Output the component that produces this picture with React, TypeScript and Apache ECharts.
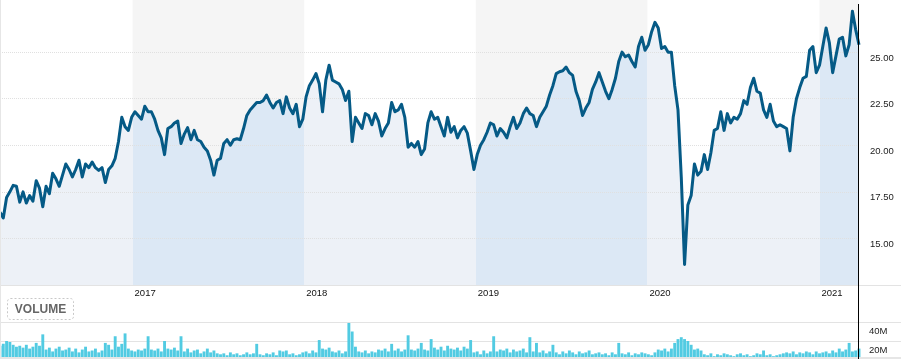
import React, { useEffect, useRef } from 'react';
import * as echarts from 'echarts';

// Weekly closes, starting Friday 2016-03-25
const START_DATE = Date.UTC(2016, 2, 25);
const WEEK_MS = 7 * 24 * 3600 * 1000;

const priceValues = [
  16.4, 16.1, 17.2, 17.5, 17.85, 17.8, 16.95, 17.5, 16.9, 17.3,
  17.0, 18.1, 17.7, 16.7, 17.8, 17.4, 18.5, 18.2, 17.8, 18.4,
  19.0, 18.7, 18.3, 18.7, 19.2, 18.3, 19.0, 18.8, 19.1, 18.8,
  18.65, 18.8, 18.0, 18.7, 18.9, 19.3, 20.2, 21.5, 21.0, 20.8,
  21.5, 21.8, 21.6, 21.4, 22.1, 21.8, 21.8, 21.4, 20.8, 20.4,
  19.5, 20.9, 21.0, 21.2, 21.3, 20.1, 20.6, 20.95, 20.3, 20.8,
  20.3, 20.2, 19.9, 19.7, 19.2, 18.4, 19.2, 19.3, 20.1, 20.3,
  20.0, 20.3, 20.35, 20.3, 20.9, 21.6, 21.9, 22.1, 22.3, 22.3,
  22.4, 22.7, 22.3, 22.0, 22.3, 22.4, 21.7, 22.6, 22.0, 21.7,
  22.2, 21.0, 21.4, 22.6, 23.2, 23.5, 23.85, 23.3, 21.8, 23.5,
  24.3, 23.5, 23.4, 23.3, 23.0, 22.4, 22.9, 20.2, 21.5, 21.2,
  20.9, 21.7, 21.6, 21.1, 21.7, 21.3, 20.5, 20.9, 21.2, 22.3,
  21.8, 21.9, 22.2, 21.5, 19.9, 20.1, 19.9, 20.2, 19.5, 19.8,
  21.2, 21.8, 21.4, 21.5, 21.0, 20.5, 21.5, 20.7, 21.0, 20.4,
  20.8, 21.0, 20.65, 19.7, 18.7, 19.5, 20.0, 20.3, 20.7, 21.2,
  21.1, 20.5, 20.9, 20.7, 20.4, 21.0, 21.5, 20.9, 21.2, 21.7,
  22.0, 21.7, 21.6, 21.0, 21.5, 21.8, 22.1, 22.7, 23.2, 23.85,
  23.95, 24.0, 24.2, 23.9, 23.75, 22.9, 22.4, 21.6, 22.0, 22.3,
  23.0, 23.4, 23.9, 23.4, 22.9, 22.5, 23.0, 23.6, 24.5, 25.0,
  24.75, 24.85, 24.5, 24.2, 25.3, 25.8, 25.1, 25.4, 26.1, 26.6,
  26.3, 25.2, 25.3, 25.0, 25.0, 23.2, 21.9, 18.3, 13.6, 16.8,
  17.3, 19.0, 18.4, 18.6, 19.5, 18.7, 19.6, 20.8, 20.9, 21.8,
  20.8, 21.7, 21.2, 21.5, 21.4, 21.7, 22.4, 22.2, 23.1, 23.6,
  22.9, 22.8, 21.9, 21.5, 22.2, 21.3, 21.0, 21.1, 21.0, 20.9,
  19.7, 21.5, 22.5, 23.1, 23.6, 23.7, 25.1, 25.3, 23.9, 24.3,
  25.3, 26.3, 25.5, 23.9, 24.8, 25.7, 25.8, 24.8, 25.4, 27.2,
  26.2, 25.4,
];

// Volume in millions, one bar per week
const volumeMillions = [
  15, 17, 20, 19, 16, 14, 15, 13, 16, 12,
  14, 18, 15, 27, 11, 13, 9, 12, 14, 10,
  11, 13, 9, 12, 8, 11, 14, 9, 10, 12,
  8, 10, 18, 16, 11, 25, 14, 17, 28, 12,
  10, 9, 11, 10, 12, 25, 11, 10, 12, 9,
  20, 12, 11, 13, 10, 25, 9, 12, 8, 10,
  11, 7, 9, 12, 8, 10, 7, 6, 7, 5,
  8, 6, 7, 5, 6, 8, 6, 7, 17, 6,
  5, 7, 6, 8, 5, 10, 9, 10, 6, 7,
  5, 6, 8, 9, 7, 10, 8, 21, 12, 11,
  13, 9, 8, 10, 7, 9, 39, 30, 14, 9,
  8, 10, 7, 9, 8, 11, 10, 12, 9, 17,
  10, 12, 9, 11, 26, 11, 10, 12, 18, 11,
  10, 22, 13, 11, 14, 10, 15, 12, 11, 13,
  10, 14, 12, 21, 8, 9, 6, 10, 7, 9,
  25, 9, 11, 10, 12, 8, 11, 9, 10, 12,
  8, 24, 9, 18, 8, 10, 7, 9, 16, 8,
  6, 9, 7, 10, 8, 6, 9, 7, 8, 10,
  6, 7, 8, 6, 7, 5, 8, 6, 18, 7,
  6, 8, 5, 7, 6, 8, 7, 6, 5, 8,
  11, 10, 12, 9, 12, 18, 22, 24, 22, 20,
  16, 11, 12, 10, 6, 5, 7, 4, 6, 5,
  7, 6, 5, 4, 6, 7, 5, 6, 4, 5,
  7, 6, 10, 5, 6, 4, 5, 6, 7, 8,
  7, 9, 6, 8, 7, 9, 8, 6, 9, 7,
  8, 9, 7, 10, 8, 12, 9, 11, 18, 9,
  10, 12,
];

const shadedYears = [2017, 2019, 2021];
const yearLabels = [2017, 2018, 2019, 2020, 2021];
const priceLabelRange = [15, 25];

const FONT = "'Liberation Sans', Arial, Helvetica, sans-serif";

export default function App() {
  const ref = useRef<HTMLDivElement>(null);

  useEffect(() => {
    if (!ref.current) return;
    const chart = echarts.init(ref.current, null, { renderer: 'svg' });

    const dates = priceValues.map((_, i) => START_DATE + i * WEEK_MS);
    const priceData = priceValues.map((v, i) => [dates[i], v]);
    const volumeData = volumeMillions.map((v, i) => [dates[i], v * 1e6]);
    const xMin = dates[0];
    const xMax = dates[dates.length - 1];
    const yearTs = (y: number) => Date.UTC(y, 0, 1);

    const lightFill = '#edf1f7';
    const darkFill = '#dce8f5';
    const pieces: any[] = [{ lt: yearTs(2017), color: lightFill }];
    for (let y = 2017; y <= 2020; y++) {
      pieces.push({
        gte: yearTs(y),
        lt: yearTs(y + 1),
        color: shadedYears.includes(y) ? darkFill : lightFill,
      });
    }
    pieces.push({ gte: yearTs(2021), color: darkFill });

    const bands = shadedYears.map((y) => [
      { xAxis: yearTs(y) },
      { xAxis: Math.min(yearTs(y + 1), xMax) },
    ]);

    const grid = '#e0e0e0';
    const tr = 'rgba(0,0,0,0)';

    chart.setOption({
      animation: false,
      grid: [
        { left: 0, right: 42, top: 0, height: 285, outerBoundsMode: 'none' },
        { left: 0, right: 42, top: 322, height: 38, outerBoundsMode: 'none' },
      ],
      xAxis: [
        {
          type: 'value',
          gridIndex: 0,
          min: xMin,
          max: xMax,
          axisLine: { show: true, lineStyle: { color: '#e3e3e3', width: 1 } },
          axisTick: { show: false },
          splitLine: { show: false },
          axisLabel: {
            customValues: yearLabels.map(yearTs),
            formatter: (v: number) => String(new Date(v).getUTCFullYear()),
            align: 'left',
            padding: [0, 0, 0, 2],
            margin: 2,
            fontSize: 9.5,
            color: '#111',
            fontFamily: FONT,
          },
        },
        {
          type: 'value',
          gridIndex: 1,
          min: xMin,
          max: xMax,
          axisLine: { show: false },
          axisTick: { show: false },
          axisLabel: { show: false },
          splitLine: { show: false },
        },
      ],
      yAxis: [
        {
          type: 'value',
          gridIndex: 0,
          position: 'right',
          min: 12.5,
          max: 27.8,
          interval: 2.5,
          z: 3,
          axisLine: { show: false },
          axisTick: { show: false },
          axisLabel: {
            formatter: (v: number) =>
              v >= priceLabelRange[0] - 1e-6 && v <= priceLabelRange[1] + 1e-6 ? v.toFixed(2) : '',
            margin: 11,
            verticalAlign: 'top',
            fontSize: 9.5,
            color: '#222',
            fontFamily: FONT,
          },
          splitLine: {
            show: true,
            lineStyle: {
              type: 'dotted',
              width: 1,
              color: [tr, grid, grid, grid, grid, grid, tr, tr],
            },
          },
        },
        {
          type: 'value',
          gridIndex: 1,
          position: 'right',
          min: 0,
          max: 40e6,
          interval: 20e6,
          axisLine: { show: false },
          axisTick: { show: false },
          axisLabel: {
            formatter: (v: number) => (v > 0 ? `${Math.round(v / 1e6)}M` : ''),
            margin: 10,
            verticalAlign: 'top',
            padding: [3, 0, 0, 0],
            fontSize: 9.5,
            color: '#222',
            fontFamily: FONT,
          },
          splitLine: { show: true, lineStyle: { color: '#e3e3e3', width: 1, type: 'solid' } },
        },
      ],
      visualMap: [
        {
          type: 'piecewise',
          show: false,
          seriesIndex: 1,
          dimension: 0,
          pieces,
        },
      ],
      series: [
        {
          name: 'Price',
          type: 'line',
          xAxisIndex: 0,
          yAxisIndex: 0,
          data: priceData,
          symbol: 'none',
          showSymbol: false,
          z: 4,
          lineStyle: { color: '#055a86', width: 3, join: 'round' },
          markArea: {
            silent: true,
            z: 1,
            itemStyle: { color: '#f5f5f5' },
            data: bands,
          },
        },
        {
          name: 'Area',
          type: 'line',
          xAxisIndex: 0,
          yAxisIndex: 0,
          data: priceData,
          symbol: 'none',
          showSymbol: false,
          z: 2,
          silent: true,
          lineStyle: { width: 0, opacity: 0 },
          areaStyle: { opacity: 1 },
        },
        {
          name: 'Volume',
          type: 'bar',
          xAxisIndex: 1,
          yAxisIndex: 1,
          data: volumeData,
          barWidth: 2.9,
          z: 2,
          itemStyle: { color: '#52cbe2' },
        },
      ],
      graphic: [
        {
          type: 'line',
          z: 20,
          shape: { x1: 0.5, y1: 0, x2: 0.5, y2: 359 },
          style: { stroke: '#e6e6e6', lineWidth: 1 },
        },
        {
          type: 'line',
          z: 20,
          shape: { x1: 859, y1: 285.5, x2: 901, y2: 285.5 },
          style: { stroke: '#e3e3e3', lineWidth: 1 },
        },
        {
          type: 'line',
          z: 20,
          shape: { x1: 859, y1: 322.5, x2: 901, y2: 322.5 },
          style: { stroke: '#e3e3e3', lineWidth: 1 },
        },
        {
          type: 'line',
          z: 20,
          shape: { x1: 859, y1: 341.5, x2: 901, y2: 341.5 },
          style: { stroke: '#e3e3e3', lineWidth: 1 },
        },
        {
          type: 'rect',
          z: 20,
          shape: { x: 0, y: 357, width: 901, height: 2 },
          style: { fill: '#e6e6e6' },
        },
        {
          type: 'line',
          z: 21,
          shape: { x1: 858.5, y1: 4, x2: 858.5, y2: 359 },
          style: { stroke: '#000', lineWidth: 1 },
        },
        {
          type: 'rect',
          z: 21,
          shape: { x: 7.5, y: 298.5, width: 66, height: 21, r: 3 },
          style: { fill: '#fff', stroke: '#c8c8c8', lineWidth: 1, lineDash: [2, 2] },
        },
        {
          type: 'text',
          z: 22,
          x: 40.5,
          y: 309,
          style: {
            text: 'VOLUME',
            fill: '#666',
            font: `bold 12px ${FONT}`,
            align: 'center',
            verticalAlign: 'middle',
          },
        },
      ],
    });

    return () => {
      chart.dispose();
    };
  }, []);

  return (
    <div
      ref={ref}
      style={{ position: 'fixed', left: 0, top: 0, width: 901, height: 359 }}
    />
  );
}
